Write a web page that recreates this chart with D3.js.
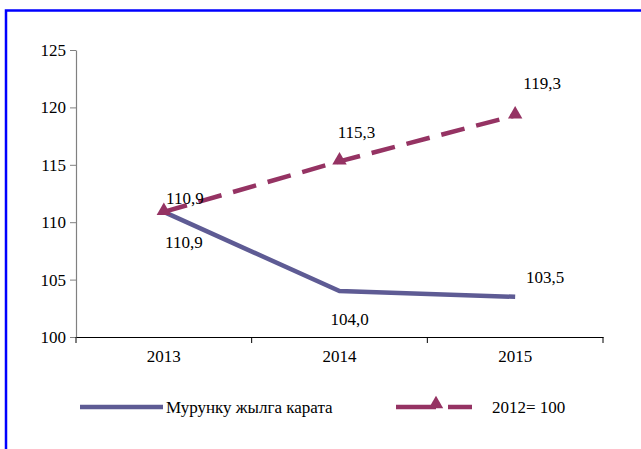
<!DOCTYPE html>
<html>
<head>
<meta charset="utf-8">
<script src="https://cdn.jsdelivr.net/npm/d3@7"></script>
<style>
  body { margin: 0; background: #fff; }
  svg text { font-family: "Liberation Serif", "Tinos", "Times New Roman", "DejaVu Serif", serif !important; }
</style>
</head>
<body>
<svg width="641" height="449"></svg>
<script>
const years = ["2013", "2014", "2015"];
const prevYear = [110.9, 104.0, 103.5];
const base2012 = [110.9, 115.3, 119.3];
const prevLabels = ["110,9", "104,0", "103,5"];
const baseLabels = ["110,9", "115,3", "119,3"];
const yTicks = [100, 105, 110, 115, 120, 125];

const margin = { left: 76, right: 38, top: 50, bottom: 112 };
const width = 641, height = 449;

const svg = d3.select("svg");

// frame
svg.append("path")
  .attr("d", `M6,449 V10.5 H641`)
  .attr("fill", "none")
  .attr("stroke", "#0000ff")
  .attr("stroke-width", 2.5);

const x = d3.scaleBand().domain(years).range([margin.left, width - margin.right]);
const y = d3.scaleLinear().domain([100, 125]).range([height - margin.bottom, margin.top]);
const cx = (i) => x(years[i]) + x.bandwidth() / 2;

// y axis
const yAxis = svg.append("g")
  .attr("transform", `translate(${margin.left},0)`)
  .call(d3.axisLeft(y).tickValues(yTicks).tickSize(6).tickSizeOuter(0).tickFormat(d3.format("d")));
yAxis.select(".domain").attr("stroke", "#808080").attr("stroke-width", 1.2);
yAxis.selectAll(".tick line").attr("stroke", "#808080");
yAxis.selectAll(".tick text").attr("font-size", 17).attr("fill", "#000").attr("x", -10);

// x axis
const xAxis = svg.append("g")
  .attr("transform", `translate(0,${y(100)})`)
  .call(d3.axisBottom(x).tickSize(0).tickSizeOuter(0));
xAxis.select(".domain").attr("stroke", "#000");
xAxis.selectAll(".tick text").attr("font-size", 17).attr("fill", "#000").attr("dy", "1.3em");
const bounds = [margin.left, ...years.map(d => x(d) + x.bandwidth())];
svg.append("g").selectAll("line").data(bounds).join("line")
  .attr("x1", d => d).attr("x2", d => d)
  .attr("y1", y(100)).attr("y2", y(100) + 6)
  .attr("stroke", "#000");

const line = d3.line().x((d, i) => cx(i)).y(d => y(d));

const blue = "#5e5b94";
const maroon = "#953363";

svg.append("path")
  .attr("d", line(prevYear))
  .attr("fill", "none").attr("stroke", blue).attr("stroke-width", 4.5);

svg.append("path")
  .attr("d", line(base2012))
  .attr("fill", "none").attr("stroke", maroon).attr("stroke-width", 4.5)
  .attr("stroke-dasharray", "24,12");

const tri = d3.symbol().type(d3.symbolTriangle).size(90);
svg.append("g").selectAll("path").data(base2012).join("path")
  .attr("d", tri)
  .attr("transform", (d, i) => `translate(${cx(i)},${y(d) - 1})`)
  .attr("fill", maroon);

// data labels
const lbl = svg.append("g").attr("font-size", 17).attr("fill", "#000").attr("text-anchor", "middle");
const baseOff = [[21, -8], [17, -23], [27, -26]];
lbl.selectAll(".b").data(base2012).join("text")
  .attr("x", (d, i) => cx(i) + baseOff[i][0])
  .attr("y", (d, i) => y(d) + baseOff[i][1])
  .text((d, i) => baseLabels[i]);
const prevOff = [[20, 36], [10, 34], [30, -14]];
lbl.selectAll(".p").data(prevYear).join("text")
  .attr("x", (d, i) => cx(i) + prevOff[i][0])
  .attr("y", (d, i) => y(d) + prevOff[i][1])
  .text((d, i) => prevLabels[i]);

// legend
const leg = svg.append("g").attr("font-size", 17).attr("fill", "#000");
leg.append("line").attr("x1", 80).attr("x2", 163).attr("y1", 407).attr("y2", 407)
  .attr("stroke", blue).attr("stroke-width", 4.5);
leg.append("text").attr("x", 166).attr("y", 413).text("Мурунку жылга карата");
leg.append("line").attr("x1", 396).attr("x2", 476).attr("y1", 407).attr("y2", 407)
  .attr("stroke", maroon).attr("stroke-width", 4.5).attr("stroke-dasharray", "40,12,24");
leg.append("path").attr("d", tri).attr("transform", "translate(436,404)").attr("fill", maroon);
leg.append("text").attr("x", 492).attr("y", 413).text("2012= 100");
</script>
</body>
</html>
